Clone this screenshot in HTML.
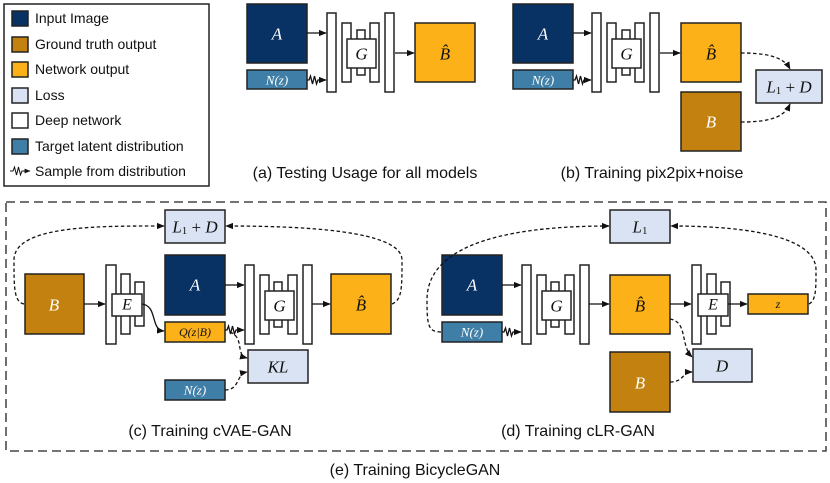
<!DOCTYPE html>
<html><head><meta charset="utf-8"><style>
html,body{margin:0;padding:0;background:#fff}
svg{display:block}
.t{font-family:"Liberation Sans",sans-serif;fill:#111}
.m{font-family:"Liberation Serif",serif;font-style:italic;text-anchor:middle;dominant-baseline:central}
.bx{stroke:#222;stroke-width:1.5}
.n{fill:#fff;stroke:#222;stroke-width:1.5}
.ar{fill:none;stroke:#111;stroke-width:1.3;marker-end:url(#ah)}
.da{fill:none;stroke:#111;stroke-width:1.3;stroke-dasharray:3.5,2.5;marker-end:url(#ah)}
</style></head><body>
<svg width="830" height="483" viewBox="0 0 830 483" xmlns="http://www.w3.org/2000/svg">
<defs>
<marker id="ah" viewBox="0 0 10 10" refX="9" refY="5" markerWidth="6" markerHeight="6" orient="auto"><path d="M0,1 L10,5 L0,9 z" fill="#111"/></marker>
</defs>
<!-- legend -->
<rect x="4" y="4" width="205" height="182" fill="#fff" stroke="#222" stroke-width="1.5"/>
<g class="bx">
<rect x="12" y="11" width="16" height="15" fill="#083264"/>
<rect x="12" y="37" width="16" height="15" fill="#c3810f"/>
<rect x="12" y="62" width="16" height="15" fill="#fbb117"/>
<rect x="12" y="88" width="16" height="15" fill="#dae3f3"/>
<rect x="12" y="113" width="16" height="15" fill="#fff"/>
<rect x="12" y="139" width="16" height="15" fill="#3f7ea6"/>
</g>
<g class="t" font-size="14">
<text x="35" y="23">Input Image</text>
<text x="35" y="49">Ground truth output</text>
<text x="35" y="74">Network output</text>
<text x="35" y="100">Loss</text>
<text x="35" y="125">Deep network</text>
<text x="35" y="151">Target latent distribution</text>
<text x="35" y="176">Sample from distribution</text>
</g>
<path d="M10,171 L13,171 L14.5,167 L16.5,175 L18.5,167 L20.5,175 L22,171 L30,171" fill="none" stroke="#111" stroke-width="1" marker-end="url(#ah)"/>

<!-- panel a -->
<rect class="bx" x="247" y="4" width="60" height="59" fill="#083264"/>
<text class="m" x="277" y="34" font-size="17" fill="#fff">A</text>
<rect class="bx" x="247" y="70" width="60" height="19" fill="#3f7ea6"/>
<text class="m" x="277" y="80" font-size="13" fill="#fff">N(z)</text>
<g transform="translate(327,13)">
<rect class="n" x="0" y="0" width="9" height="79"/><rect class="n" x="15" y="10" width="9" height="59"/><rect class="n" x="30" y="17" width="8" height="45"/><rect class="n" x="43" y="10" width="9" height="59"/><rect class="n" x="58" y="0" width="9" height="79"/><rect class="n" x="20" y="26" width="29" height="29"/>
<text class="m" x="34.5" y="41" font-size="17" fill="#111">G</text></g>
<path class="ar" d="M307,33 L326,33"/>
<path class="ar" d="M307,80 L309,80 L310.5,76 L312.5,84 L314.5,76 L316.5,84 L318,80 L326,80"/>
<path class="ar" d="M395,53 L414,53"/>
<rect class="bx" x="415" y="23" width="60" height="59" fill="#fbb117"/>
<text class="m" x="445" y="54" font-size="17" fill="#111">B̂</text>
<text class="t" x="365" y="178" font-size="16" text-anchor="middle">(a) Testing Usage for all models</text>

<!-- panel b -->
<rect class="bx" x="513" y="4" width="60" height="59" fill="#083264"/>
<text class="m" x="543" y="34" font-size="17" fill="#fff">A</text>
<rect class="bx" x="513" y="70" width="60" height="19" fill="#3f7ea6"/>
<text class="m" x="543" y="80" font-size="13" fill="#fff">N(z)</text>
<g transform="translate(592,13)">
<rect class="n" x="0" y="0" width="9" height="79"/><rect class="n" x="15" y="10" width="9" height="59"/><rect class="n" x="30" y="17" width="8" height="45"/><rect class="n" x="43" y="10" width="9" height="59"/><rect class="n" x="58" y="0" width="9" height="79"/><rect class="n" x="20" y="26" width="29" height="29"/>
<text class="m" x="34.5" y="41" font-size="17" fill="#111">G</text></g>
<path class="ar" d="M573,33 L591,33"/>
<path class="ar" d="M573,80 L575,80 L576.5,76 L578.5,84 L580.5,76 L582.5,84 L584,80 L591,80"/>
<path class="ar" d="M660,53 L680,53"/>
<rect class="bx" x="681" y="23" width="60" height="59" fill="#fbb117"/>
<text class="m" x="711" y="54" font-size="17" fill="#111">B̂</text>
<rect class="bx" x="681" y="92" width="60" height="59" fill="#c3810f"/>
<text class="m" x="711" y="122" font-size="17" fill="#fff">B</text>
<rect class="bx" x="756" y="70" width="66" height="33" fill="#dae3f3"/>
<text class="m" x="789" y="87" font-size="17" fill="#111">L<tspan font-size="11" font-style="normal" dy="4">1</tspan><tspan dy="-4" font-style="normal"> + </tspan>D</text>
<path class="da" d="M741,53 C775,53 785,60 790,69"/>
<path class="da" d="M741,122 C775,122 785,115 790,104"/>
<text class="t" x="652" y="178" font-size="16" text-anchor="middle">(b) Training pix2pix+noise</text>

<!-- dashed frame -->
<rect x="6" y="202" width="820" height="249" fill="none" stroke="#222" stroke-width="1.3" stroke-dasharray="9,5"/>

<!-- panel c -->
<rect class="bx" x="165" y="210" width="60" height="33" fill="#dae3f3"/>
<text class="m" x="195" y="227" font-size="17" fill="#111">L<tspan font-size="11" font-style="normal" dy="4">1</tspan><tspan dy="-4" font-style="normal"> + </tspan>D</text>
<rect class="bx" x="25" y="274" width="59" height="60" fill="#c3810f"/>
<text class="m" x="54" y="305" font-size="17" fill="#fff">B</text>
<g transform="translate(106,265)">
<rect class="n" x="0" y="0" width="10" height="79"/><rect class="n" x="15" y="9" width="9" height="60"/><rect class="n" x="29" y="17" width="9" height="44"/><rect class="n" x="6" y="29" width="30" height="22"/>
<text class="m" x="21" y="40" font-size="16" fill="#111">E</text></g>
<path class="ar" d="M84,304 L105,304"/>
<rect class="bx" x="165" y="255" width="60" height="60" fill="#083264"/>
<text class="m" x="195" y="285" font-size="17" fill="#fff">A</text>
<rect class="bx" x="165" y="322" width="60" height="20" fill="#fbb117"/>
<text class="m" x="195" y="332" font-size="12" fill="#111">Q(z|B)</text>
<path class="ar" d="M142,304 C158,306 150,330 164,331"/>
<g transform="translate(245,265)">
<rect class="n" x="0" y="0" width="9" height="79"/><rect class="n" x="15" y="10" width="9" height="59"/><rect class="n" x="29" y="17" width="8" height="45"/><rect class="n" x="43" y="10" width="9" height="59"/><rect class="n" x="58" y="0" width="9" height="79"/><rect class="n" x="20" y="26" width="29" height="29"/>
<text class="m" x="34.5" y="41" font-size="17" fill="#111">G</text></g>
<path class="ar" d="M225,285 L244,285"/>
<path class="ar" d="M225,330 L227,330 L228.5,326 L230.5,334 L232.5,326 L234.5,334 L236,330 L244,330"/>
<path class="ar" d="M312,304 L330,304"/>
<rect class="bx" x="331" y="274" width="60" height="60" fill="#fbb117"/>
<text class="m" x="361" y="305" font-size="17" fill="#111">B̂</text>
<rect class="bx" x="248" y="350" width="60" height="33" fill="#dae3f3"/>
<text class="m" x="278" y="367" font-size="17" fill="#111">KL</text>
<rect class="bx" x="165" y="380" width="60" height="20" fill="#3f7ea6"/>
<text class="m" x="195" y="390" font-size="13" fill="#fff">N(z)</text>
<path class="da" d="M230,332 C245,338 235,355 247,358"/>
<path class="da" d="M225,390 C240,390 236,374 247,372"/>
<path class="da" d="M24,304 C14,302 14,288 14,260 C14,225 100,226 164,226"/>
<path class="da" d="M392,304 C402,300 402,288 402,260 C402,230 300,226 226,226"/>
<text class="t" x="210" y="436" font-size="16" text-anchor="middle">(c) Training cVAE-GAN</text>

<!-- panel d -->
<rect class="bx" x="610" y="210" width="60" height="33" fill="#dae3f3"/>
<text class="m" x="640" y="227" font-size="17" fill="#111">L<tspan font-size="11" font-style="normal" dy="4">1</tspan></text>
<rect class="bx" x="442" y="255" width="60" height="60" fill="#083264"/>
<text class="m" x="472" y="285" font-size="17" fill="#fff">A</text>
<rect class="bx" x="442" y="322" width="60" height="20" fill="#3f7ea6"/>
<text class="m" x="472" y="332" font-size="13" fill="#fff">N(z)</text>
<g transform="translate(522,265)">
<rect class="n" x="0" y="0" width="9" height="79"/><rect class="n" x="15" y="10" width="9" height="59"/><rect class="n" x="29" y="17" width="8" height="45"/><rect class="n" x="43" y="10" width="9" height="59"/><rect class="n" x="58" y="0" width="9" height="79"/><rect class="n" x="20" y="26" width="29" height="29"/>
<text class="m" x="34.5" y="41" font-size="17" fill="#111">G</text></g>
<path class="ar" d="M502,285 L521,285"/>
<path class="ar" d="M502,332 L504,332 L505.5,328 L507.5,336 L509.5,328 L511.5,336 L513,332 L521,332"/>
<path class="ar" d="M589,304 L609,304"/>
<rect class="bx" x="610" y="275" width="60" height="59" fill="#fbb117"/>
<text class="m" x="640" y="306" font-size="17" fill="#111">B̂</text>
<g transform="translate(692,265)">
<rect class="n" x="0" y="0" width="9" height="79"/><rect class="n" x="15" y="9" width="9" height="60"/><rect class="n" x="29" y="17" width="9" height="44"/><rect class="n" x="6" y="29" width="30" height="22"/>
<text class="m" x="21" y="40" font-size="16" fill="#111">E</text></g>
<path class="ar" d="M670,304 L691,304"/>
<path class="ar" d="M728,304 L747,304"/>
<rect class="bx" x="748" y="294" width="60" height="20" fill="#fbb117"/>
<text class="m" x="778" y="304" font-size="12" fill="#111">z</text>
<rect class="bx" x="693" y="349" width="59" height="33" fill="#dae3f3"/>
<text class="m" x="722" y="366" font-size="17" fill="#111">D</text>
<rect class="bx" x="610" y="352" width="60" height="60" fill="#c3810f"/>
<text class="m" x="640" y="383" font-size="17" fill="#fff">B</text>
<path class="da" d="M670,319 C688,322 680,345 692,357"/>
<path class="da" d="M670,382 C684,382 682,372 692,372"/>
<path class="da" d="M441,332 C428,332 427,325 427,300 C427,240 520,226 609,226"/>
<path class="da" d="M809,304 C816,300 816,290 816,270 C816,240 760,226 671,226"/>
<text class="t" x="578" y="436" font-size="16" text-anchor="middle">(d) Training cLR-GAN</text>

<text class="t" x="415" y="475" font-size="16" text-anchor="middle">(e) Training BicycleGAN</text>
</svg>
</body></html>
